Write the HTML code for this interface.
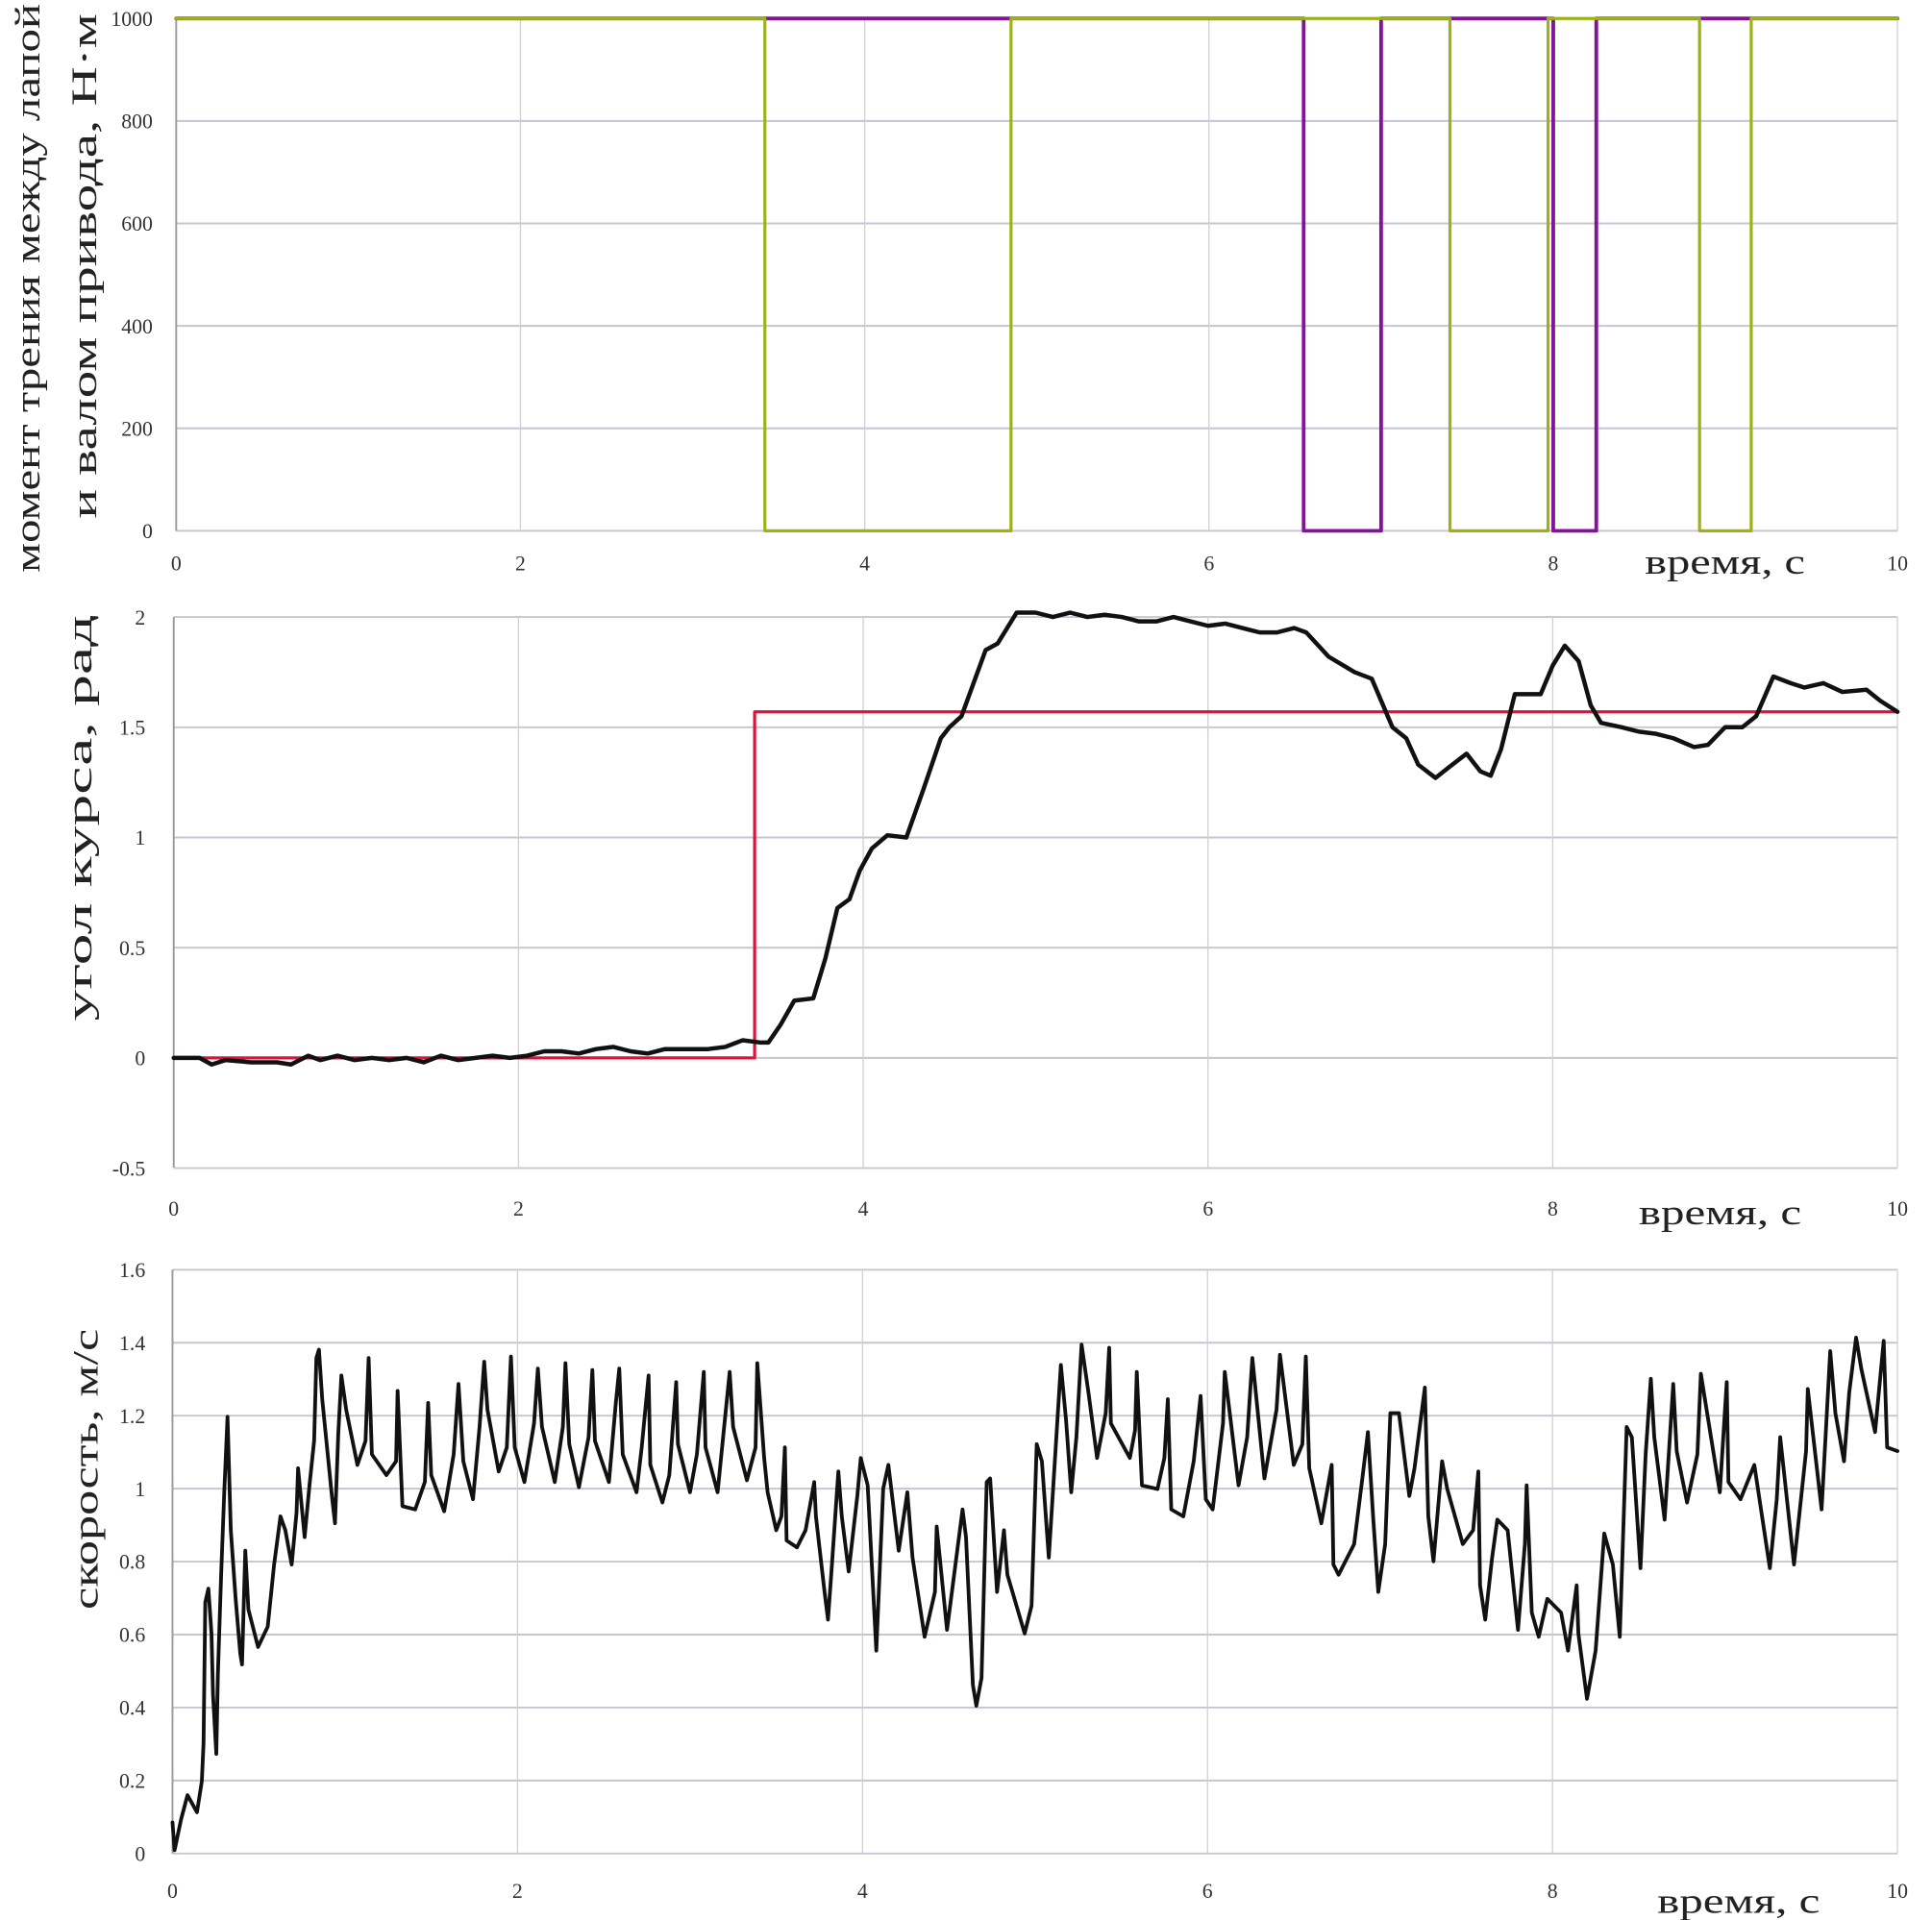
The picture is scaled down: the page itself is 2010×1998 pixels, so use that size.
<!DOCTYPE html>
<html><head><meta charset="utf-8"><title>charts</title>
<style>
html,body{margin:0;padding:0;background:#fff;}
svg{display:block;}
.tick{font-family:"Liberation Serif",serif;font-size:17px;fill:#333;}
.ttl{font-family:"Liberation Serif",serif;font-size:29px;fill:#222;}
</style></head>
<body>
<svg id="fig" width="2010" height="1998" viewBox="0 0 1568 1559" preserveAspectRatio="none" xmlns="http://www.w3.org/2000/svg">
<rect x="0" y="0" width="1568" height="1559" fill="#fff"/>
<text class="ttl" transform="translate(32,234) rotate(-90)" text-anchor="middle" textLength="462" lengthAdjust="spacingAndGlyphs">момент трения между лапой</text>
<text class="ttl" transform="translate(78,216) rotate(-90)" text-anchor="middle" textLength="410" lengthAdjust="spacingAndGlyphs">и валом привода, Н·м</text>
<text class="ttl" transform="translate(74,664) rotate(-90)" text-anchor="middle" textLength="330" lengthAdjust="spacingAndGlyphs">угол курса, рад</text>
<text class="ttl" transform="translate(79,1193) rotate(-90)" text-anchor="middle" textLength="228" lengthAdjust="spacingAndGlyphs">скорость, м/с</text>
<text class="ttl" x="1335" y="466" textLength="130" lengthAdjust="spacingAndGlyphs">время, с</text>
<text class="ttl" x="1330" y="994" textLength="132" lengthAdjust="spacingAndGlyphs">время, с</text>
<text class="ttl" x="1345" y="1553" textLength="132" lengthAdjust="spacingAndGlyphs">время, с</text>
</svg>
<script>
// ---- shared x ticks ----
const xTicks = [0, 2, 4, 6, 8, 10];
// ---- chart 1: friction torque ----
const c1YTicks = [0, 200, 400, 600, 800, 1000];
const c1OliveT = [0, 3.42, 3.42, 4.85, 4.85, 7.40, 7.40, 7.97, 7.97, 8.85, 8.85, 9.15, 9.15, 10];
const c1OliveV = [1000, 1000, 0, 0, 1000, 1000, 0, 0, 1000, 1000, 0, 0, 1000, 1000];
const c1PurpleT = [0, 6.55, 6.55, 7.0, 7.0, 8.0, 8.0, 8.25, 8.25, 10];
const c1PurpleV = [1000, 1000, 0, 0, 1000, 1000, 0, 0, 1000, 1000];
// ---- chart 2: heading angle ----
const c2YTicks = [-0.5, 0, 0.5, 1, 1.5, 2];
const c2YLabels = ["-0.5", "0", "0.5", "1", "1.5", "2"];
const c2RefT = [0, 3.37, 3.37, 10];
const c2RefV = [0, 0, 1.57, 1.57];
const c2T = [0,0.15,0.22,0.3,0.45,0.6,0.68,0.78,0.85,0.95,1.05,1.15,1.25,1.35,1.45,1.55,1.65,1.75,1.85,1.95,2.05,2.15,2.25,2.35,2.45,2.55,2.65,2.75,2.85,2.95,3.1,3.2,3.3,3.4,3.45,3.52,3.6,3.71,3.78,3.85,3.92,3.98,4.05,4.14,4.25,4.35,4.45,4.5,4.57,4.64,4.71,4.78,4.89,5.0,5.1,5.2,5.3,5.4,5.5,5.6,5.7,5.8,5.9,6.0,6.1,6.2,6.3,6.4,6.5,6.57,6.7,6.85,6.95,7.07,7.15,7.22,7.32,7.4,7.5,7.58,7.64,7.7,7.78,7.93,8.0,8.07,8.15,8.22,8.28,8.4,8.5,8.6,8.7,8.82,8.9,9.0,9.1,9.18,9.28,9.38,9.46,9.57,9.68,9.82,9.9,10];
const c2V = [0,0,-0.03,-0.01,-0.02,-0.02,-0.03,0.01,-0.01,0.01,-0.01,0,-0.01,0,-0.02,0.01,-0.01,0,0.01,0,0.01,0.03,0.03,0.02,0.04,0.05,0.03,0.02,0.04,0.04,0.04,0.05,0.08,0.07,0.07,0.15,0.26,0.27,0.45,0.68,0.72,0.85,0.95,1.01,1.0,1.22,1.45,1.5,1.55,1.7,1.85,1.88,2.02,2.02,2.0,2.02,2.0,2.01,2.0,1.98,1.98,2.0,1.98,1.96,1.97,1.95,1.93,1.93,1.95,1.93,1.82,1.75,1.72,1.5,1.45,1.33,1.27,1.32,1.38,1.3,1.28,1.4,1.65,1.65,1.78,1.87,1.8,1.6,1.52,1.5,1.48,1.47,1.45,1.41,1.42,1.5,1.5,1.55,1.73,1.7,1.68,1.7,1.66,1.67,1.62,1.57];
// ---- chart 3: speed ----
const c3YTicks = [0, 0.2, 0.4, 0.6, 0.8, 1, 1.2, 1.4, 1.6];
const c3YLabels = ["0", "0.2", "0.4", "0.6", "0.8", "1", "1.2", "1.4", "1.6"];
const c3T = [0,0.012,0.05,0.087,0.142,0.17,0.18,0.19,0.208,0.226,0.235,0.254,0.263,0.282,0.3,0.319,0.338,0.366,0.393,0.403,0.422,0.44,0.496,0.552,0.589,0.626,0.654,0.691,0.719,0.728,0.766,0.794,0.821,0.834,0.849,0.868,0.924,0.942,0.961,0.979,1.007,1.072,1.119,1.137,1.156,1.24,1.296,1.305,1.333,1.407,1.463,1.482,1.5,1.575,1.63,1.658,1.686,1.742,1.78,1.807,1.826,1.891,1.938,1.962,1.984,2.04,2.096,2.118,2.142,2.216,2.263,2.278,2.3,2.356,2.412,2.434,2.449,2.53,2.57,2.59,2.61,2.69,2.72,2.76,2.77,2.84,2.88,2.92,2.93,3.0,3.04,3.08,3.09,3.16,3.23,3.25,3.33,3.38,3.39,3.43,3.45,3.5,3.53,3.55,3.56,3.62,3.67,3.72,3.73,3.78,3.8,3.82,3.86,3.88,3.92,3.97,3.99,4.03,4.08,4.12,4.15,4.21,4.26,4.29,4.36,4.42,4.43,4.49,4.58,4.6,4.64,4.66,4.69,4.72,4.74,4.78,4.82,4.84,4.94,4.98,5.01,5.04,5.08,5.12,5.15,5.18,5.21,5.24,5.27,5.31,5.36,5.41,5.43,5.44,5.55,5.58,5.59,5.62,5.71,5.75,5.77,5.79,5.86,5.92,5.96,5.99,6.03,6.09,6.1,6.18,6.23,6.26,6.33,6.4,6.42,6.5,6.55,6.57,6.59,6.66,6.72,6.73,6.76,6.85,6.9,6.93,6.96,6.99,7.03,7.06,7.11,7.17,7.2,7.26,7.28,7.31,7.36,7.39,7.48,7.54,7.57,7.58,7.61,7.65,7.68,7.74,7.8,7.84,7.85,7.88,7.92,7.97,8.05,8.09,8.14,8.15,8.2,8.25,8.3,8.35,8.39,8.43,8.46,8.51,8.54,8.57,8.59,8.65,8.7,8.72,8.78,8.84,8.86,8.97,9.01,9.02,9.09,9.17,9.26,9.3,9.32,9.4,9.47,9.48,9.56,9.61,9.64,9.69,9.72,9.76,9.79,9.87,9.92,9.94,10];
const c3V = [0.085,0.009,0.094,0.16,0.113,0.198,0.302,0.688,0.726,0.603,0.434,0.273,0.49,0.764,0.99,1.197,0.886,0.698,0.547,0.518,0.83,0.669,0.566,0.622,0.792,0.924,0.886,0.792,0.934,1.056,0.867,1.009,1.131,1.358,1.381,1.245,0.98,0.905,1.15,1.31,1.216,1.065,1.131,1.358,1.094,1.037,1.075,1.268,0.952,0.943,1.018,1.235,1.037,0.938,1.094,1.287,1.075,0.971,1.169,1.348,1.216,1.047,1.113,1.362,1.113,1.018,1.179,1.329,1.169,1.018,1.169,1.344,1.122,1.004,1.141,1.325,1.131,1.018,1.235,1.329,1.094,0.99,1.113,1.31,1.065,0.962,1.037,1.292,1.122,0.99,1.094,1.32,1.113,0.99,1.32,1.169,1.023,1.113,1.344,1.084,0.99,0.886,0.924,1.113,0.858,0.839,0.886,1.018,0.924,0.717,0.641,0.773,1.047,0.924,0.773,0.98,1.084,1.009,0.556,1.0,1.065,0.83,0.99,0.811,0.594,0.717,0.896,0.613,0.943,0.867,0.462,0.405,0.481,1.018,1.028,0.717,0.886,0.764,0.603,0.679,1.122,1.075,0.811,1.113,1.339,1.188,0.99,1.141,1.395,1.263,1.084,1.207,1.386,1.179,1.084,1.16,1.32,1.009,0.999,1.084,1.245,0.943,0.924,1.075,1.254,0.971,0.943,1.179,1.32,1.009,1.141,1.358,1.028,1.216,1.367,1.065,1.122,1.362,1.056,0.905,1.065,0.792,0.764,0.848,1.037,1.155,0.924,0.717,0.848,1.207,1.207,0.98,1.056,1.277,0.924,0.801,1.075,0.999,0.848,0.886,1.047,0.735,0.641,0.811,0.915,0.886,0.613,0.848,1.009,0.66,0.594,0.698,0.66,0.556,0.735,0.603,0.424,0.556,0.877,0.792,0.594,1.169,1.141,0.782,1.094,1.301,1.141,0.915,1.287,1.103,0.962,1.094,1.315,0.99,1.292,1.018,0.971,1.065,0.782,0.971,1.141,0.792,1.103,1.273,0.943,1.377,1.207,1.075,1.263,1.414,1.329,1.155,1.405,1.113,1.103];

const NS = "http://www.w3.org/2000/svg";
const svg = document.getElementById("fig");
function mk(tag, attrs) {
  const e = document.createElementNS(NS, tag);
  for (const k in attrs) e.setAttribute(k, attrs[k]);
  svg.appendChild(e);
  return e;
}
function linScale(d0, d1, r0, r1) { return v => r0 + (v - d0) * (r1 - r0) / (d1 - d0); }

function axes(prefix, xs, ys, yTicks, yLabels, x0, x1, y0, y1, yLabelX, xLabelY) {
  yTicks.forEach((v, i) => {
    const g = mk("line", {x1: x0, x2: x1, y1: ys(v), y2: ys(v), stroke: "#c6c6d2", "stroke-width": 1.5});
    
    
    const t = mk("text", {x: yLabelX, y: ys(v) + 6, "text-anchor": "end", class: "tick"});
    
    
    t.textContent = yLabels[i];
  });
  xTicks.forEach(v => {
    const g = mk("line", {x1: xs(v), x2: xs(v), y1: y0, y2: y1, stroke: "#cfcfd6", "stroke-width": 1});
    
    
    const t = mk("text", {x: xs(v), y: xLabelY, "text-anchor": "middle", class: "tick"});
    
    
    t.textContent = String(v);
  });
  const ax = mk("line", {x1: x0, x2: x0, y1: y0, y2: y1, stroke: "#9a9aa6", "stroke-width": 1.5});
  
  
}
function series(name, xs, ys, T, V, color, w) {
  let d = "";
  const n = Math.min(T.length, V.length);
  for (let i = 0; i < n; i++) d += (i ? "L" : "M") + xs(T[i]).toFixed(2) + "," + ys(V[i]).toFixed(2);
  const p = mk("path", {d: d, fill: "none", stroke: color, "stroke-width": w, "stroke-linejoin": "round", "stroke-linecap": "round"});
  
  
}

// chart 1
{
  const xs = linScale(0, 10, 143, 1540), ys = linScale(0, 1000, 431, 15);
  axes("chart1", xs, ys, c1YTicks, c1YTicks.map(String), 143, 1540, 15, 431, 124, 463);
  series("chart1-purple-line", xs, ys, c1PurpleT, c1PurpleV, "#84139a", 3);
  series("chart1-olive-line", xs, ys, c1OliveT, c1OliveV, "#9db21a", 2.5);
}
// chart 2
{
  const xs = linScale(0, 10, 141, 1540), ys = linScale(0, 2, 859, 501);
  axes("chart2", xs, ys, c2YTicks, c2YLabels, 141, 1540, 501, 948, 118, 987);
  series("chart2-reference-line", xs, ys, c2RefT, c2RefV, "#d8163f", 2.5);
  series("chart2-heading-line", xs, ys, c2T, c2V, "#111", 3.5);
}
// chart 3
{
  const xs = linScale(0, 10, 140, 1540), ys = linScale(0, 1.6, 1505, 1031);
  axes("chart3", xs, ys, c3YTicks, c3YLabels, 140, 1540, 1031, 1505, 118, 1541);
  series("chart3-speed-line", xs, ys, c3T, c3V, "#111", 3);
}
</script>
</body></html>
